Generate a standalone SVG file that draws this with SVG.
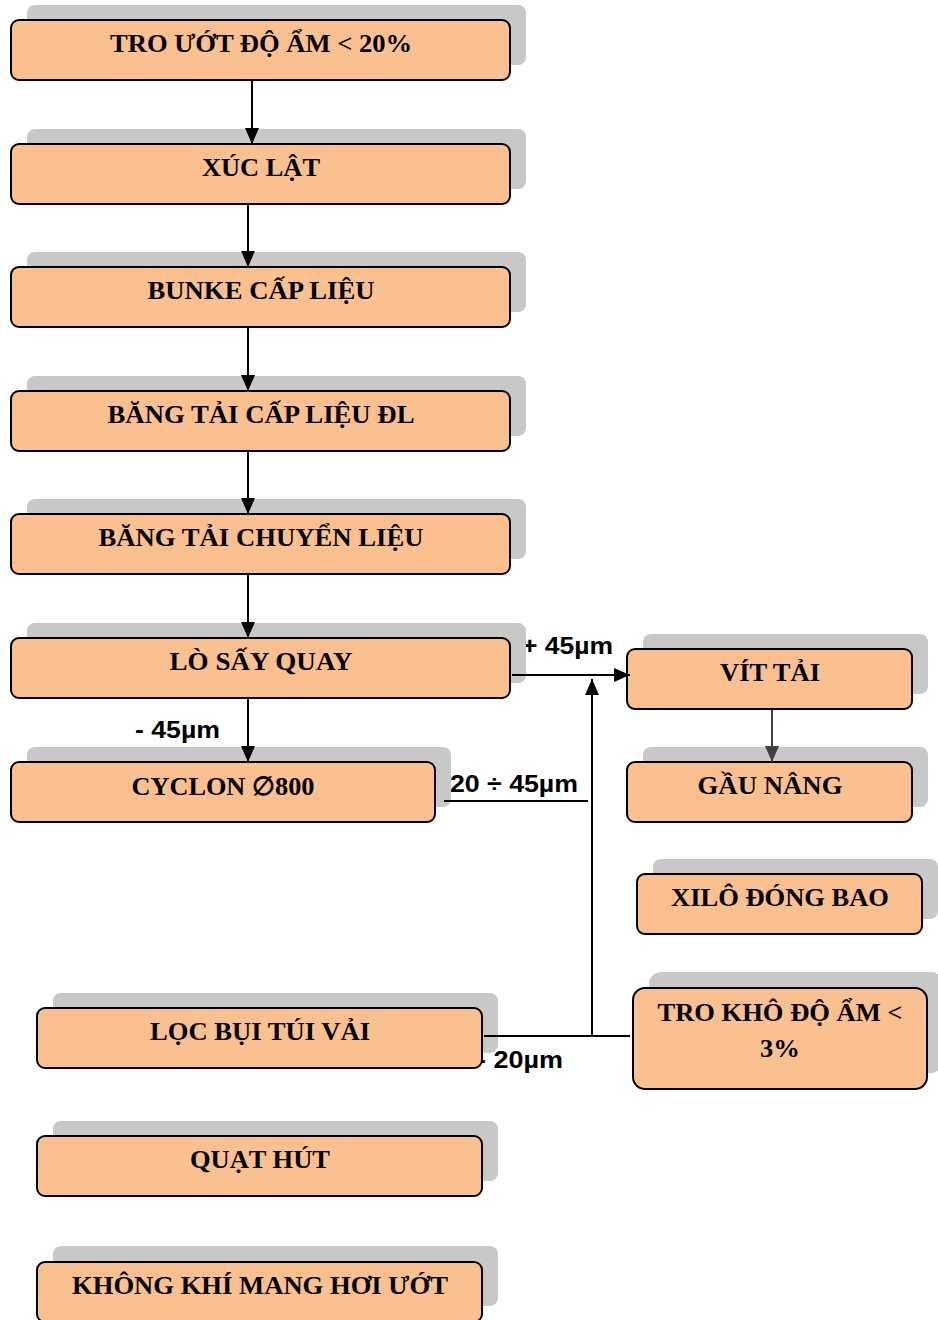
<svg xmlns="http://www.w3.org/2000/svg" width="938" height="1320" viewBox="0 0 938 1320">
<style>
.sh{fill:#c8c8c8}
.bx{fill:#fac090;stroke:#000;stroke-width:2}
.t{font-family:"Liberation Serif","Times New Roman",serif;font-weight:bold;font-size:26px;fill:#000;text-anchor:middle}
.l{font-family:"Liberation Sans",Arial,sans-serif;font-weight:bold;font-size:23px;fill:#000}
.c{stroke:#000;stroke-width:2;fill:none}
</style>
<defs>
<marker id="a" viewBox="0 0 16 14" refX="16" refY="7" markerWidth="16" markerHeight="14" orient="auto" markerUnits="userSpaceOnUse">
<path d="M0,0 L16,7 L0,14 z" fill="#000"/>
</marker>
<marker id="ag" viewBox="0 0 16 14" refX="16" refY="7" markerWidth="16" markerHeight="14" orient="auto" markerUnits="userSpaceOnUse">
<path d="M0,0 L16,7 L0,14 z" fill="#404040"/>
</marker>
</defs>

<g id="labels">
<text class="l" x="522" y="654" textLength="91" lengthAdjust="spacingAndGlyphs">+ 45µm</text>
<text class="l" x="135" y="738" textLength="85" lengthAdjust="spacingAndGlyphs">- 45µm</text>
<text class="l" x="450" y="792" textLength="128" lengthAdjust="spacingAndGlyphs">20 ÷ 45µm</text>
<text class="l" x="477" y="1068" textLength="86" lengthAdjust="spacingAndGlyphs">- 20µm</text>
</g>

<g id="n1"><rect class="sh" x="27" y="5" width="499" height="60" rx="8"/><rect class="bx" x="11" y="20" width="499" height="60" rx="8"/><text class="t" x="261" y="52" textLength="302" lengthAdjust="spacingAndGlyphs">TRO ƯỚT ĐỘ ẨM &lt; 20%</text></g>
<g id="n2"><rect class="sh" x="27" y="129" width="499" height="60" rx="8"/><rect class="bx" x="11" y="144" width="499" height="60" rx="8"/><text class="t" x="261" y="176" textLength="118" lengthAdjust="spacingAndGlyphs">XÚC LẬT</text></g>
<g id="n3"><rect class="sh" x="27" y="252" width="499" height="60" rx="8"/><rect class="bx" x="11" y="267" width="499" height="60" rx="8"/><text class="t" x="261" y="299" textLength="227" lengthAdjust="spacingAndGlyphs">BUNKE CẤP LIỆU</text></g>
<g id="n4"><rect class="sh" x="27" y="376" width="499" height="60" rx="8"/><rect class="bx" x="11" y="391" width="499" height="60" rx="8"/><text class="t" x="261" y="423" textLength="307" lengthAdjust="spacingAndGlyphs">BĂNG TẢI CẤP LIỆU ĐL</text></g>
<g id="n5"><rect class="sh" x="27" y="499" width="499" height="60" rx="8"/><rect class="bx" x="11" y="514" width="499" height="60" rx="8"/><text class="t" x="261" y="546" textLength="325" lengthAdjust="spacingAndGlyphs">BĂNG TẢI CHUYỂN LIỆU</text></g>
<g id="n6"><rect class="sh" x="27" y="623" width="499" height="60" rx="8"/><rect class="bx" x="11" y="638" width="499" height="60" rx="8"/><text class="t" x="261" y="670" textLength="183" lengthAdjust="spacingAndGlyphs">LÒ SẤY QUAY</text></g>
<g id="n7"><rect class="sh" x="27" y="747" width="424" height="60" rx="8"/><rect class="bx" x="11" y="762" width="424" height="60" rx="8"/><text class="t" x="223" y="795" textLength="183" lengthAdjust="spacingAndGlyphs">CYCLON ∅800</text></g>
<g id="n8"><rect class="sh" x="643" y="634" width="285" height="60" rx="8"/><rect class="bx" x="627" y="649" width="285" height="60" rx="8"/><text class="t" x="770" y="681" textLength="100" lengthAdjust="spacingAndGlyphs">VÍT TẢI</text></g>
<g id="n9"><rect class="sh" x="643" y="747" width="285" height="60" rx="8"/><rect class="bx" x="627" y="762" width="285" height="60" rx="8"/><text class="t" x="770" y="794" textLength="145" lengthAdjust="spacingAndGlyphs">GẦU NÂNG</text></g>
<g id="n10"><rect class="sh" x="653" y="859" width="285" height="60" rx="8"/><rect class="bx" x="637" y="874" width="285" height="60" rx="8"/><text class="t" x="780" y="906" textLength="218" lengthAdjust="spacingAndGlyphs">XILÔ ĐÓNG BAO</text></g>
<g id="n11"><rect class="sh" x="649" y="972" width="294" height="101" rx="12"/><rect class="bx" x="633" y="988" width="294" height="101" rx="12"/><text class="t" x="780" y="1021" textLength="245" lengthAdjust="spacingAndGlyphs">TRO KHÔ ĐỘ ẨM &lt;</text><text class="t" x="780" y="1057" textLength="40" lengthAdjust="spacingAndGlyphs">3%</text></g>
<g id="n12"><rect class="sh" x="53" y="993" width="445" height="60" rx="8"/><rect class="bx" x="37" y="1008" width="445" height="60" rx="8"/><text class="t" x="260" y="1040" textLength="220" lengthAdjust="spacingAndGlyphs">LỌC BỤI TÚI VẢI</text></g>
<g id="n13"><rect class="sh" x="53" y="1121" width="445" height="60" rx="8"/><rect class="bx" x="37" y="1136" width="445" height="60" rx="8"/><text class="t" x="260" y="1168" textLength="140" lengthAdjust="spacingAndGlyphs">QUẠT HÚT</text></g>
<g id="n14"><rect class="sh" x="53" y="1246" width="445" height="60" rx="8"/><rect class="bx" x="37" y="1262" width="445" height="60" rx="8"/><text class="t" x="260" y="1294" textLength="376" lengthAdjust="spacingAndGlyphs">KHÔNG KHÍ MANG HƠI ƯỚT</text></g>

<g id="connectors">
<line class="c" x1="252" y1="81" x2="252" y2="144" marker-end="url(#a)"/>
<line class="c" x1="248" y1="205" x2="248" y2="267" marker-end="url(#a)"/>
<line class="c" x1="248" y1="328" x2="248" y2="391" marker-end="url(#a)"/>
<line class="c" x1="248" y1="452" x2="248" y2="514" marker-end="url(#a)"/>
<line class="c" x1="248" y1="575" x2="248" y2="638" marker-end="url(#a)"/>
<line class="c" x1="248" y1="699" x2="248" y2="762" marker-end="url(#a)"/>
<line class="c" x1="512" y1="675" x2="630" y2="675" marker-end="url(#a)"/>
<line class="c" x1="772" y1="710" x2="772" y2="762" style="stroke:#404040" marker-end="url(#ag)"/>
<line class="c" x1="444" y1="801" x2="588" y2="801"/>
<line class="c" x1="484" y1="1036" x2="630" y2="1036"/>
<line class="c" x1="592" y1="1036" x2="592" y2="679" marker-end="url(#a)"/>
</g>
</svg>
